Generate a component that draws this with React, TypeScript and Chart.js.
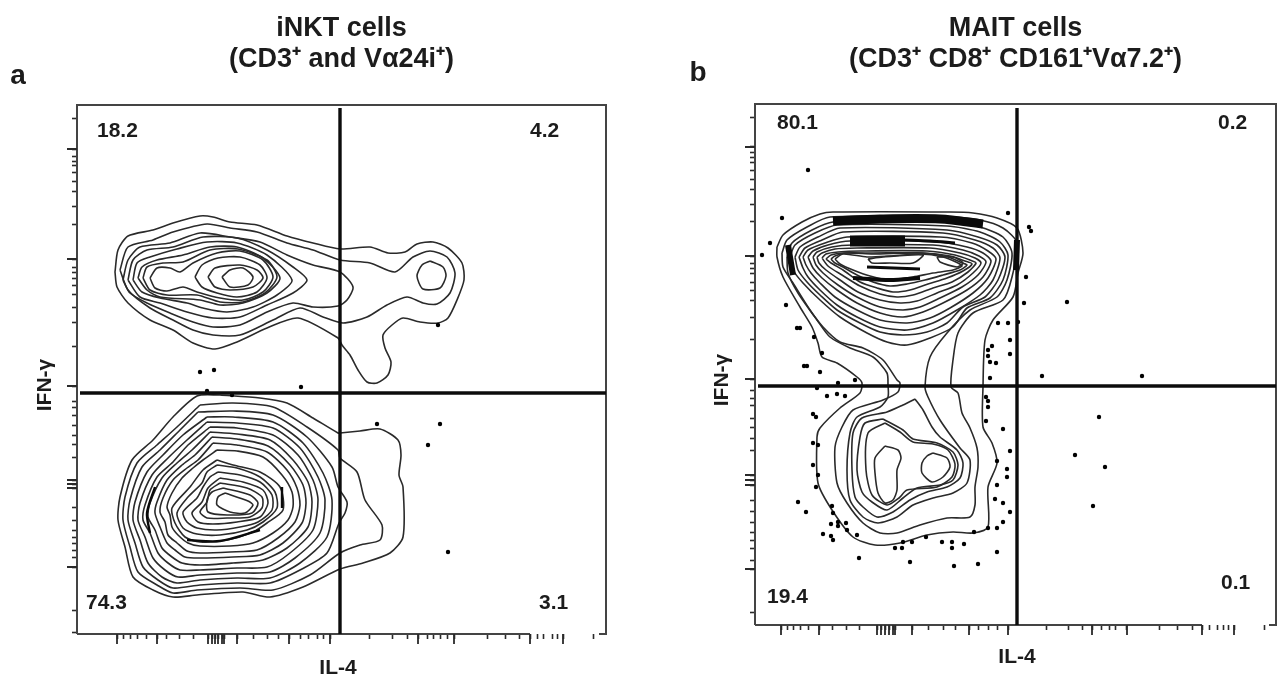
import { useEffect, useRef } from "react";
import { Chart, registerables } from "chart.js";

Chart.register(...registerables);

const iNKTContours: number[][] = [
  [38,362,41,384,51,398,76,404,96,411,123,418,136,417,153,412,180,409,210,398,236,391,263,385,293,387,311,381,328,382,340,390,356,392,371,386,385,371,387,354,380,334,371,316,361,311,343,312,326,316,315,309,306,299,308,286,314,272,311,259,300,251,290,252,281,264,273,279,265,289,261,296,221,316,190,306,160,292,138,285,116,291,96,304,73,314,51,331,40,347],
  [43,364,51,387,76,394,96,402,130,410,153,406,180,402,210,391,236,384,263,374,293,371,318,362,336,377,353,383,370,377,378,361,373,341,360,330,346,331,330,337,310,329,290,317,266,311,246,317,223,326,196,314,163,299,136,299,116,304,96,314,73,326,51,344],
  [353,373,366,367,369,358,363,346,346,345,340,358,345,369],
  [46,354,51,374,63,387,93,391,123,401,153,397,183,392,210,379,236,369,263,362,276,347,270,334,261,328,236,327,216,331,190,322,163,309,136,307,116,312,93,321,70,331,53,341],
  [51,354,56,374,70,384,96,387,126,397,160,396,190,384,216,367,230,354,216,341,190,329,163,317,136,316,110,322,83,331,63,337],
  [56,354,60,371,73,377,100,385,130,392,160,391,190,379,215,354,200,339,176,327,150,322,126,326,110,331,83,336,65,342],
  [61,356,65,367,80,374,106,379,133,387,160,387,186,376,203,356,190,341,166,331,143,329,123,334,83,337,70,344],
  [66,356,70,367,86,371,106,372,133,384,161,385,190,374,200,357,188,341,166,332,143,332,120,339,90,339,73,344],
  [73,356,80,366,93,366,103,362,116,371,140,381,163,383,186,374,196,357,186,342,166,334,143,336,120,342,106,347,90,343,78,346],
  [118,357,125,369,141,376,163,377,183,369,190,356,180,342,160,337,140,341,125,347],
  [131,357,138,366,163,369,180,364,186,356,176,347,153,344,138,347],
  [145,357,153,364,166,366,176,357,171,349,153,347],
  [143,239,183,236,210,231,236,216,261,201,263,201,283,203,303,205,321,194,324,179,322,159,326,147,326,97,313,81,286,71,263,65,226,47,193,37,166,42,120,39,96,37,76,44,56,57,48,87,41,114,43,137,55,174,76,194,96,217,120,238],
  [123,229,156,231,196,227,230,207,261,184,263,176,280,162,288,134,305,109,303,94,283,89,263,81,233,59,196,44,163,46,120,44,96,41,80,49,61,62,53,87,46,114,48,137,60,171,80,189,100,207],
  [121,222,156,223,196,219,230,197,255,167,261,147,270,132,268,121,262,111,250,81,223,64,193,51,160,51,123,49,96,46,81,54,66,67,58,91,51,114,53,134,65,167,83,184,103,204],
  [130,217,156,217,196,212,226,191,246,161,255,134,250,97,223,71,193,56,160,56,123,54,100,51,85,57,71,71,63,94,56,114,58,132,70,162,86,179,106,199],
  [130,212,160,211,196,206,223,186,241,157,248,134,243,101,218,76,193,62,160,61,123,59,101,57,88,64,76,76,68,97,61,114,63,131,75,159,91,176,110,194],
  [133,207,160,206,196,199,221,179,236,154,241,134,236,104,213,81,190,67,160,66,123,64,103,64,91,71,81,81,73,101,66,114,68,129,80,157,96,172,111,189],
  [133,202,160,200,193,194,216,174,231,152,235,132,231,107,210,86,186,74,156,71,123,69,105,71,95,77,85,86,78,104,71,117,73,131,85,156,100,171,115,184],
  [135,197,160,195,191,188,213,169,226,149,229,131,225,111,206,91,183,79,156,77,123,76,108,77,98,84,90,91,83,107,78,121,80,132,90,154,105,169,118,179],
  [136,191,160,189,190,182,210,164,220,146,223,129,218,112,201,96,180,84,153,82,123,81,110,83,100,91,91,99,88,112,83,122,86,136,96,154,110,166,121,174],
  [140,184,160,183,186,177,205,159,215,142,216,127,211,114,196,101,176,91,153,88,123,88,111,91,101,99,95,107,93,119,90,127,95,141,105,156,116,166,126,174],
  [140,174,156,169,183,162,203,147,206,124,190,111,176,102,150,94,123,92,108,97,98,111,95,126,113,147,126,164],
  [140,169,160,166,183,157,198,142,200,126,186,112,170,104,143,99,120,100,106,106,100,121,111,137,125,151,130,162],
  [141,162,163,159,183,152,195,139,195,124,181,112,163,107,140,104,120,106,110,112,106,122,120,136,126,147,133,157],
  [143,156,166,152,186,144,191,131,183,117,160,112,136,110,121,112,115,121,125,132,131,146],
  [143,151,170,146,185,137,185,126,173,117,150,116,130,116,123,122,130,132,133,144],
  [146,146,173,139,181,131,175,121,150,119,131,122,130,134,135,142],
  [148,141,171,133,176,129,168,121,153,122,140,129,141,137],
];
const iNKTDense: number[][] = [
  [78,147,70,121,73,101],
  [205,147,205,126],
  [110,94,143,93,183,104],
];
const iNKTEvents = [123,262,137,264,224,247,130,243,155,239,361,309,300,210,363,210,351,189,371,82];
const iNKTLeftTicks = [516,485,478,473,469,462,452,443,428,409,375,367,362,356,349,340,327,312,288,248,233,226,219,209,199,189,177,154,150,146,127,114,104,97,91,84,77,67,24,2];
const iNKTLeftMajor = [485,375,248,154,150,146,67];
const iNKTBottomTicks = [40,46,53,60,69,80,89,102,116,131,135,138,141,145,147,160,176,190,201,212,223,231,240,246,253,292,315,330,341,350,356,363,370,377,410,428,442,453,460,466,475,480,486,516];
const iNKTBottomMajor = [40,80,131,135,138,141,145,147,160,212,253,341,377,453,486];
const iNKTQuadrants = ["18.2", "4.2", "74.3", "3.1"];
const iNKTQuadrantAt = [20,503,453,503,9,31,462,31];

const maitContours: number[][] = [
  [22,378,28,390,47,403,65,411,78,413,195,413,218,412,242,407,262,397,268,372,263,352,258,328,238,305,230,285,228,238,228,198,237,182,242,162,233,138,233,98,218,92,198,93,172,90,145,82,120,80,98,88,77,115,63,142,62,188,65,197,85,217,105,232,107,242,102,248,82,262,67,268,63,282,57,298,45,318,28,348,22,368],
  [27,372,32,385,52,398,75,408,195,408,225,405,248,397,262,382,257,348,248,325,218,312,203,292,198,265,196,238,203,232,207,212,215,197,222,177,223,158,220,138,220,120,215,108,192,107,165,100,142,92,125,92,108,102,92,122,82,142,80,178,87,198,98,215,128,225,143,233,145,242,142,245,128,265,108,277,85,283,68,298,55,315,38,342,28,358],
  [32,368,37,382,57,395,78,403,192,403,225,398,248,388,257,372,252,345,242,328,215,315,192,292,175,268,170,238,173,228,185,205,205,177,215,165,212,142,198,132,178,127,158,120,142,108,123,102,108,108,95,125,92,155,95,192,102,208,125,218,133,228,133,240,132,252,118,268,95,277,75,288,62,305,43,332,33,352],
  [160,226,168,215,177,198,185,188,202,175,208,162,205,147,192,138,172,133,155,125,138,113,122,108,108,118,100,128,97,155,98,192,107,207,132,213,148,220],
  [128,206,148,195,158,186,182,182,198,173,203,160,198,145,185,140,162,137,148,127,132,115,117,123,107,133,102,155,105,188,110,202],
  [130,202,113,192,111,155,117,130,132,120,144,127,152,135,182,138,197,148,200,161,193,175,178,181,158,183,145,193],
  [130,179,143,175,146,167,142,155,142,135,138,125,130,122,123,132,120,152,120,167],
  [178,172,192,167,195,158,188,148,177,143,167,152,167,162,172,169],
  [35,368,40,380,60,392,82,400,192,399,225,393,245,383,253,370,248,345,235,327,212,317,198,298,175,287,152,280,132,283,112,292,85,308,65,325,48,342,38,355],
  [40,368,45,378,63,388,85,397,192,395,223,388,242,380,250,368,243,345,230,328,208,318,192,302,172,293,148,290,125,293,105,302,82,315,65,330,52,343,43,355],
  [44,368,50,377,67,385,88,393,188,392,220,385,238,377,245,367,238,345,225,330,202,315,178,302,152,295,125,298,102,308,82,320,65,335,53,348,48,357],
  [48,368,53,375,70,382,92,388,185,388,217,382,233,374,241,366,233,347,218,332,195,317,175,307,152,302,125,305,102,315,80,328,65,342,56,352,51,360],
  [53,368,58,374,73,380,95,384,182,383,212,378,228,372,236,364,228,348,212,335,188,322,168,313,148,308,125,312,102,322,82,335,67,347,58,357],
  [58,368,62,373,77,378,98,380,178,380,208,375,224,369,231,363,223,350,207,338,185,327,165,318,148,315,125,318,102,328,83,340,68,352,61,360],
  [62,368,67,372,80,376,102,377,175,377,205,372,220,367,226,362,218,352,202,340,182,332,162,324,145,322,125,325,103,333,85,345,71,355,64,362],
  [67,367,71,371,83,373,105,374,172,374,200,370,215,365,221,362,213,353,197,343,178,337,158,330,142,328,125,331,105,339,87,350,73,359],
  [71,366,76,370,88,372,118,372,168,372,195,369,210,364,217,361,208,354,192,347,173,341,155,335,138,333,122,337,105,343,88,355,76,362],
  [76,366,80,369,92,372,118,371,167,372,193,368,207,362,212,360,205,355,188,350,170,345,152,341,135,339,118,343,102,350,88,358,80,362],
  [80,366,88,371,112,368,135,369,165,371,188,368,203,362,207,359,198,355,178,352,158,348,135,345,115,349,98,355,85,361],
  [113,366,128,368,168,370,158,362,135,362,117,362],
  [182,368,198,368,208,362,202,358,185,363],
];
const maitDense: { width: number; path: number[] }[] = [
  { width: 9, path: [78,404,125,406,185,406,228,401] },
  { width: 11, path: [95,384,150,384] },
  { width: 3, path: [150,385,175,384,200,382] },
  { width: 6, path: [262,385,261,355] },
  { width: 6, path: [33,380,38,350] },
  { width: 4, path: [98,347,135,345,165,347] },
  { width: 3, path: [112,358,165,356] },
];
const maitEvents = [53,455,27,407,15,382,7,370,31,320,42,297,45,297,59,288,49,259,52,259,65,253,253,412,274,398,276,394,271,348,269,322,243,302,253,302,255,285,255,271,237,279,233,275,233,269,235,263,241,262,235,247,67,272,83,242,100,245,263,303,312,323,287,249,387,249,344,208,320,170,350,158,338,119,62,237,72,229,82,231,90,229,58,211,61,208,248,196,255,174,231,228,233,224,233,218,231,204,58,182,63,180,58,160,63,150,61,138,43,123,51,113,77,119,78,112,76,101,83,103,83,99,91,102,92,95,68,91,76,89,78,85,102,90,104,67,140,77,147,77,148,83,157,83,171,88,155,63,187,83,197,83,197,77,209,81,199,59,223,61,242,73,219,93,233,97,242,97,248,103,255,113,248,122,240,126,242,140,252,156,252,148,242,164];
const maitLeftTicks = [508,478,472,468,463,455,446,436,421,403,369,362,357,352,343,335,325,308,286,246,235,227,220,207,198,187,175,150,145,140,125,114,103,93,85,77,65,56,13];
const maitLeftMajor = [478,369,246,150,145,140,56];
const maitBottomTicks = [26,32,38,45,53,64,77,91,104,122,126,130,134,138,140,157,173,188,200,214,223,233,242,253,291,313,327,337,347,354,360,372,404,422,437,447,454,462,468,473,479,509];
const maitBottomMajor = [26,64,122,126,130,134,138,140,157,214,253,337,372,447,479];
const maitQuadrants = ["80.1", "0.2", "19.4", "0.1"];
const maitQuadrantAt = [22,502,463,502,12,28,466,42];

const FONT = "'Liberation Sans', Arial, sans-serif";
const INK = "#2a2a2a";

const pairs = (flat: number[]) => {
  const out: { x: number; y: number }[] = [];
  for (let i = 0; i + 1 < flat.length; i += 2) out.push({ x: flat[i], y: flat[i + 1] });
  return out;
};
const closed = (flat: number[]) => {
  const p = pairs(flat);
  return [...p, p[0]];
};

const overlay = {
  id: "overlay",
  afterDraw(chart: any, _a: any, o: any) {
    const { ctx } = chart;
    const x = chart.scales.x;
    const y = chart.scales.y;
    ctx.save();
    ctx.strokeStyle = INK;
    ctx.lineWidth = 1.8;
    ctx.beginPath();
    for (const v of o.leftMajor) {
      const py = y.getPixelForValue(v);
      ctx.moveTo(x.left - 10, py);
      ctx.lineTo(x.left, py);
    }
    for (const v of o.bottomMajor) {
      const px = x.getPixelForValue(v);
      ctx.moveTo(px, y.bottom);
      ctx.lineTo(px, y.bottom + 10);
    }
    ctx.stroke();
    ctx.fillStyle = "#1c1c1c";
    ctx.textBaseline = "middle";
    ctx.font = `bold 21px ${FONT}`;
    ctx.textAlign = "left";
    o.quadrants.forEach((t: string, i: number) => {
      ctx.fillText(t, x.getPixelForValue(o.quadrantAt[2 * i]), y.getPixelForValue(o.quadrantAt[2 * i + 1]));
    });
    ctx.textAlign = "center";
    ctx.fillText("IL-4", o.xTitle[0], o.xTitle[1]);
    ctx.save();
    ctx.translate(o.yTitle[0], o.yTitle[1]);
    ctx.rotate(-Math.PI / 2);
    ctx.fillText("IFN-γ", 0, 0);
    ctx.restore();
    ctx.font = `bold 28px ${FONT}`;
    ctx.fillText(o.letter, o.letterAt[0], o.letterAt[1]);
    ctx.restore();
  },
};

function build(canvas: HTMLCanvasElement, c: any) {
  const contourSets = c.contours.map((flat: number[]) => ({
    data: closed(flat),
    showLine: true,
    pointRadius: 0,
    borderColor: INK,
    borderWidth: 1.6,
    tension: 0.25,
    clip: false,
  }));
  const denseSets = c.dense.map((d: any) => ({
    data: pairs(d.path),
    showLine: true,
    pointRadius: 0,
    borderColor: "#0a0a0a",
    borderWidth: d.width,
    tension: 0.3,
    clip: false,
  }));
  const straight = (flat: number[], width: number, color: string) => ({
    data: pairs(flat),
    showLine: true,
    pointRadius: 0,
    borderColor: color,
    borderWidth: width,
    tension: 0,
    clip: false,
  });
  const W = c.size;
  const datasets = [
    straight(c.vGate, 3.4, "#0c0c0c"),
    straight(c.hGate, 3.4, "#0c0c0c"),
    straight([0, 0, 0, W, W, W, W, 0, W - 7, 0], 2, "#444"),
    straight([0, 0, c.axisEnd, 0], 2, "#444"),
    {
      data: pairs(c.events),
      showLine: false,
      pointRadius: 2.2,
      pointBackgroundColor: "#000",
      pointBorderWidth: 0,
      clip: false,
    },
    ...denseSets,
    ...contourSets,
  ];
  const tickGrid = { drawOnChartArea: false, drawTicks: true, tickLength: 5, tickColor: INK, tickWidth: 1.6 };
  return new Chart(canvas, {
    type: "scatter",
    data: { datasets },
    plugins: [overlay],
    options: {
      animation: false,
      responsive: false,
      events: [],
      layout: { padding: { top: c.padTop, right: c.padRight, bottom: 0, left: 0 } },
      scales: {
        x: {
          type: "linear",
          min: 0,
          max: W,
          border: { display: false },
          grid: tickGrid,
          ticks: { display: false, autoSkip: false },
          afterBuildTicks: (s: any) => {
            s.ticks = c.bottomTicks.map((value: number) => ({ value }));
          },
          afterFit: (s: any) => {
            s.height = c.bottomSpace;
          },
        },
        y: {
          type: "linear",
          min: 0,
          max: W,
          border: { display: false },
          grid: tickGrid,
          ticks: { display: false, autoSkip: false },
          afterBuildTicks: (s: any) => {
            s.ticks = c.leftTicks.map((value: number) => ({ value }));
          },
          afterFit: (s: any) => {
            s.width = c.leftSpace;
          },
        },
      },
      plugins: {
        legend: { display: false },
        tooltip: { enabled: false },
        title: {
          display: true,
          text: c.title,
          fullSize: false,
          color: "#1c1c1c",
          font: { family: FONT, size: 27, weight: "bold", lineHeight: 31 / 27 },
          padding: { top: 0, bottom: c.titleGap },
        },
        overlay: {
          leftMajor: c.leftMajor,
          bottomMajor: c.bottomMajor,
          quadrants: c.quadrants,
          quadrantAt: c.quadrantAt,
          xTitle: c.xTitle,
          yTitle: c.yTitle,
          letter: c.letter,
          letterAt: c.letterAt,
        },
      },
    },
  } as any);
}

export default function App() {
  const a = useRef<HTMLCanvasElement>(null);
  const b = useRef<HTMLCanvasElement>(null);
  useEffect(() => {
    const left = build(a.current!, {
      size: 529,
      contours: iNKTContours,
      dense: iNKTDense.map((path) => ({ width: 2.4, path })),
      events: iNKTEvents,
      vGate: [263, 0, 263, 526],
      hGate: [3, 241, 529, 241],
      axisEnd: 453,
      leftTicks: iNKTLeftTicks,
      leftMajor: iNKTLeftMajor,
      bottomTicks: iNKTBottomTicks,
      bottomMajor: iNKTBottomMajor,
      quadrants: iNKTQuadrants,
      quadrantAt: iNKTQuadrantAt,
      title: ["iNKT cells", "(CD3⁺ and Vα24i⁺)"],
      padTop: 13,
      titleGap: 30,
      padRight: 37,
      bottomSpace: 45,
      leftSpace: 77,
      xTitle: [338, 668],
      yTitle: [45, 385],
      letter: "a",
      letterAt: [18, 76],
    });
    const right = build(b.current!, {
      size: 521,
      contours: maitContours,
      dense: maitDense.map((d) => d),
      events: maitEvents,
      vGate: [262, 0, 262, 517],
      hGate: [3, 239, 521, 239],
      axisEnd: 447,
      leftTicks: maitLeftTicks,
      leftMajor: maitLeftMajor,
      bottomTicks: maitBottomTicks,
      bottomMajor: maitBottomMajor,
      quadrants: maitQuadrants,
      quadrantAt: maitQuadrantAt,
      title: ["MAIT cells", "(CD3⁺ CD8⁺ CD161⁺Vα7.2⁺)"],
      padTop: 13,
      titleGap: 29,
      padRight: 10,
      bottomSpace: 54,
      leftSpace: 112,
      xTitle: [374, 657],
      yTitle: [79, 380],
      letter: "b",
      letterAt: [55, 73],
    });
    return () => {
      left.destroy();
      right.destroy();
    };
  }, []);
  return (
    <div style={{ position: "absolute", left: 0, top: 0, width: 1286, height: 679, background: "#fff", overflow: "hidden" }}>
      <canvas ref={a} width={643} height={679} style={{ position: "absolute", left: 0, top: 0 }} />
      <canvas ref={b} width={643} height={679} style={{ position: "absolute", left: 643, top: 0 }} />
    </div>
  );
}
